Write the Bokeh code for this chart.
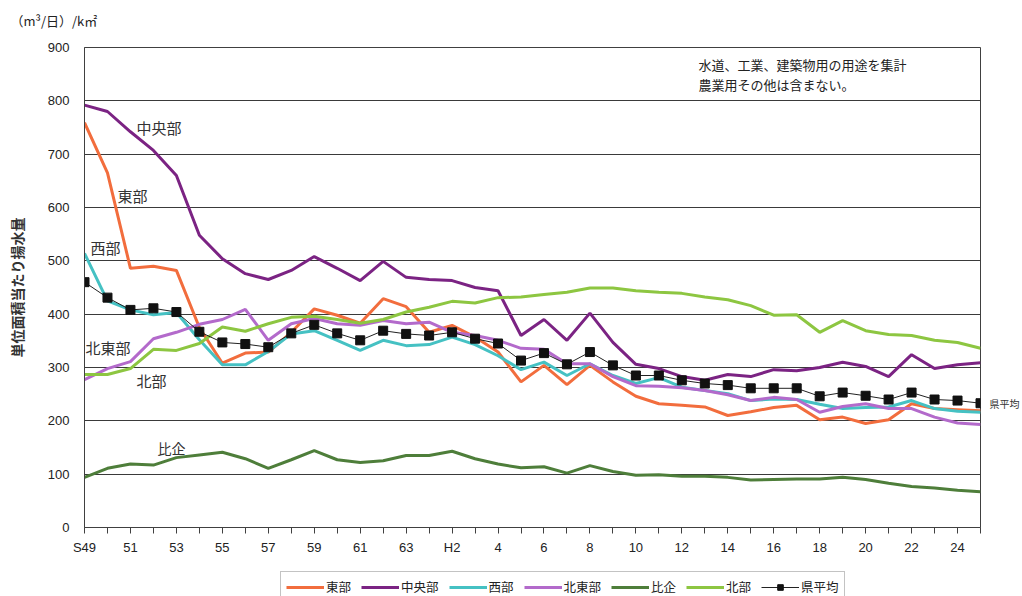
import math
from bokeh.plotting import figure
from bokeh.layouts import column
from bokeh.models import Range1d, FixedTicker, Label, Legend, LegendItem, LinearAxis, Title
from bokeh.embed import file_html
from bokeh.resources import INLINE

# ---- data -------------------------------------------------------------
years = (["S%d" % y for y in range(49, 64)] + ["H%d" % y for y in range(1, 26)])
tick_labels = ["S49", "", "51", "", "53", "", "55", "", "57", "", "59", "", "61", "", "63", "",
               "H2", "", "4", "", "6", "", "8", "", "10", "", "12", "", "14", "", "16", "",
               "18", "", "20", "", "22", "", "24", ""]

east = [759, 665, 486, 490, 482, 375, 308, 327, 329, 366, 410, 398, 383, 429, 414, 366, 379, 357, 329, 273,
        304, 268, 304, 273, 246, 232, 229, 226, 210, 217, 225, 229, 202, 207, 195, 202, 232, 223, 221, 219]
chuo = [792, 780, 742, 707, 660, 548, 504, 476, 465, 482, 508, 486, 463, 499, 469, 465, 463, 450, 444, 360,
        390, 351, 402, 347, 306, 298, 283, 276, 287, 283, 296, 294, 300, 310, 302, 283, 324, 298, 305, 309]
west = [514, 425, 408, 399, 403, 352, 305, 305, 330, 363, 369, 351, 332, 351, 341, 343, 357, 343, 322, 296,
        310, 285, 307, 285, 270, 281, 263, 257, 251, 238, 241, 240, 231, 223, 225, 226, 238, 223, 218, 216]
hokuto = [277, 298, 311, 354, 366, 381, 390, 409, 351, 382, 392, 382, 379, 388, 382, 385, 366, 360, 351, 336,
          334, 307, 307, 283, 266, 265, 262, 257, 249, 238, 244, 240, 216, 227, 232, 223, 223, 207, 196, 193]
hiki = [94, 111, 119, 117, 131, 136, 141, 129, 111, 127, 144, 127, 122, 125, 135, 135, 143, 129, 119, 112,
        114, 102, 116, 105, 98, 99, 96, 96, 94, 89, 90, 91, 91, 94, 90, 83, 77, 74, 70, 67]
hokubu = [287, 287, 298, 334, 332, 345, 376, 368, 382, 394, 396, 390, 383, 390, 404, 413, 424, 421, 431, 432,
          437, 441, 449, 449, 444, 441, 439, 432, 427, 416, 398, 399, 366, 388, 369, 362, 360, 351, 347, 336]
avg = [460, 431, 408, 411, 404, 367, 347, 344, 338, 364, 380, 364, 351, 369, 363, 360, 366, 354, 345, 313,
       327, 306, 329, 304, 285, 285, 276, 270, 267, 261, 261, 261, 246, 253, 247, 240, 253, 240, 238, 233]

series_names = ["東部", "中央部", "西部", "北東部", "比企", "北部"]
series_values = [east, chuo, west, hokuto, hiki, hokubu]
series_colors = ["#F26D3D", "#7B2383", "#45C1C3", "#B36ACB", "#4E7E3A", "#8DC641"]
avg_name = "県平均"
y_ticks = [0, 100, 200, 300, 400, 500, 600, 700, 800, 900]
unit_text = "（m³/日）/k㎡"
y_title = "単位面積当たり揚水量"
note_lines = ["水道、工業、建築物用の用途を集計", "農業用その他は含まない。"]

JP = "Noto Sans CJK JP"
NUM = "Liberation Sans"

x = list(range(len(years)))


def strip_fig(h):
    f = figure(width=1022, height=h, x_range=Range1d(0, len(years) - 1), y_range=Range1d(0, 30),
               output_backend="svg", toolbar_location=None,
               x_axis_location=None, y_axis_location=None, min_border=0)
    f.xgrid.visible = False
    f.ygrid.visible = False
    f.outline_line_color = None
    f.background_fill_color = "white"
    f.border_fill_color = "white"
    return f


# ---- top strip: unit text (as a title) -------------------------------------
top = strip_fig(39)
top.add_layout(Title(text=unit_text, align="left", offset=-74, standoff=16,
                     text_font=JP, text_font_size="13px", text_font_style="normal",
                     text_color="#222222"), "above")

# ---- main chart ------------------------------------------------------------
p = figure(frame_width=896, frame_height=480,
           x_range=Range1d(0, len(years) - 1), y_range=Range1d(0, 900),
           output_backend="svg", toolbar_location=None,
           min_border_left=84, min_border_right=42, min_border_top=8, min_border_bottom=39)
p.background_fill_color = "white"
p.border_fill_color = "white"
p.outline_line_color = "#404040"
p.outline_line_width = 1

p.xgrid.visible = False
p.ygrid.ticker = FixedTicker(ticks=y_ticks)
p.ygrid.grid_line_color = "#3a3a3a"
p.ygrid.grid_line_width = 1

p.yaxis.ticker = FixedTicker(ticks=y_ticks)
p.yaxis.major_tick_out = 0
p.yaxis.major_tick_in = 0
p.yaxis.minor_tick_out = 0
p.yaxis.minor_tick_in = 0
p.yaxis.axis_line_color = "#404040"
p.yaxis.major_label_text_font = NUM
p.yaxis.major_label_text_font_size = "13px"
p.yaxis.major_label_text_color = "#222222"
p.yaxis.major_label_standoff = 15
p.yaxis.axis_label = y_title
p.yaxis.axis_label_text_font = JP
p.yaxis.axis_label_text_font_size = "14px"
p.yaxis.axis_label_text_font_style = "bold"
p.yaxis.axis_label_text_color = "#333333"
p.yaxis.axis_label_standoff = 18

p.xaxis.ticker = FixedTicker(ticks=x)
p.xaxis.major_label_overrides = {i: t for i, t in zip(x, tick_labels)}
p.xaxis.major_tick_out = 6
p.xaxis.major_tick_in = 0
p.xaxis.minor_tick_out = 0
p.xaxis.minor_tick_in = 0
p.xaxis.axis_line_color = "#404040"
p.xaxis.major_tick_line_color = "#404040"
p.xaxis.major_label_text_font = NUM
p.xaxis.major_label_text_font_size = "13px"
p.xaxis.major_label_text_color = "#222222"
p.xaxis.major_label_standoff = 6

# right-hand label for the prefecture average
avg_axis = LinearAxis(ticker=FixedTicker(ticks=[avg[-1]]),
                      major_label_overrides={avg[-1]: avg_name})
avg_axis.axis_line_color = None
avg_axis.major_tick_line_color = None
avg_axis.minor_tick_line_color = None
avg_axis.major_label_text_font = JP
avg_axis.major_label_text_font_size = "10px"
avg_axis.major_label_text_color = "#333333"
avg_axis.major_label_standoff = 3
p.add_layout(avg_axis, "right")

for name, vals, col in zip(series_names, series_values, series_colors):
    p.line(x, vals, line_color=col, line_width=3)
p.line(x, avg, line_color="#222222", line_width=1)
p.scatter(x, avg, marker="square", size=9, fill_color="#111111", line_color="#111111")


def xd(px):
    return (px - 84) / (896 / (len(years) - 1))


def yd(py):
    return (527 - py) / (480 / 900)


series_label_pos = {
    "中央部": (136, 127, "15px"),
    "東部": (117, 195, "15px"),
    "西部": (90, 247, "15px"),
    "北東部": (85, 347, "15px"),
    "北部": (136, 380, "15px"),
    "比企": (157, 447, "14px"),
}
for name, (px, py, fs) in series_label_pos.items():
    p.add_layout(Label(x=xd(px), y=yd(py), text=name, text_font=JP, text_font_size=fs,
                       text_color="#333333", text_baseline="middle", text_align="left"))

for k, line in enumerate(note_lines):
    p.add_layout(Label(x=xd(698), y=yd(64 + 20 * k), text=line, text_font=JP,
                       text_font_size="13px", text_color="#222222", text_baseline="middle",
                       text_align="left"))

# ---- bottom strip: legend (series drawn far above the strip's range) -------
bot = strip_fig(30)
items = []
for name, vals, col in zip(series_names, series_values, series_colors):
    r = bot.line(x, vals, line_color=col, line_width=3)
    items.append(LegendItem(label=name, renderers=[r]))
ra = bot.line(x, avg, line_color="#222222", line_width=1)
rs = bot.scatter(x, avg, marker="square", size=9, fill_color="#111111", line_color="#111111")
items.append(LegendItem(label=avg_name, renderers=[ra, rs]))

legend = Legend(items=items, orientation="horizontal", location=(196, -6),
                label_text_font=JP, label_text_font_size="12.5px", label_text_color="#222222",
                glyph_width=38, glyph_height=14, label_standoff=2, spacing=10, padding=5,
                margin=0, border_line_color="#888888", border_line_width=1,
                background_fill_color="white", background_fill_alpha=1)
bot.add_layout(legend, "center")

layout = column(top, p, bot, spacing=0)
open("out.html", "w").write(file_html(layout, INLINE))
